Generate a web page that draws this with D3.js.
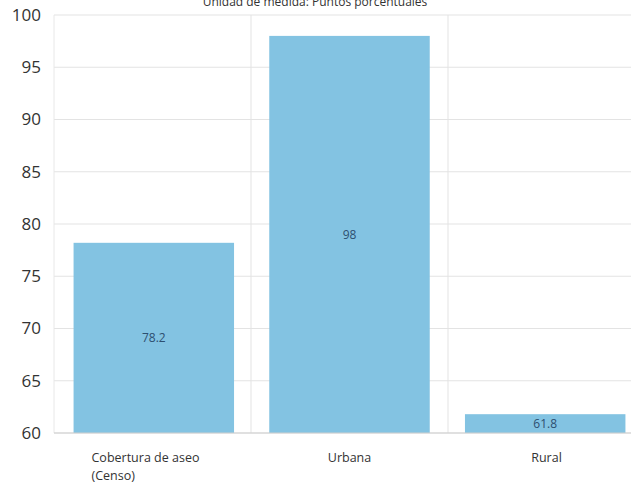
<!DOCTYPE html>
<html><head><meta charset="utf-8">
<script src="https://cdn.jsdelivr.net/npm/d3@7"></script>
<style>body{margin:0;background:#fff;} svg{display:block;}</style>
</head><body>
<svg id="c" width="631" height="486"></svg>
<script>
const title = "Unidad de medida: Puntos porcentuales";
const categories = [["Cobertura de aseo", "(Censo)"], ["Urbana"], ["Rural"]];
const values = [78.2, 98, 61.8];
const yTicks = [60, 65, 70, 75, 80, 85, 90, 95, 100];

const svg = d3.select("#c");
const font = "'Open Sans', 'Noto Sans', sans-serif";
const mLeft = 54, mRight = 645, mTop = 15, mBottom = 433;

const x = d3.scaleBand().domain(d3.range(values.length)).range([mLeft, mRight]).paddingInner(0.18).paddingOuter(0.1);
const xb = d3.scaleBand().domain(d3.range(values.length)).range([mLeft, mRight]);
const y = d3.scaleLinear().domain([60, 100]).range([mBottom, mTop]);

// horizontal grid
svg.append("g").selectAll("line").data(yTicks).join("line")
  .attr("x1", mLeft).attr("x2", 631).attr("y1", d => y(d)).attr("y2", d => y(d))
  .attr("stroke", "#e3e3e3").attr("stroke-width", 1);
// vertical separators
svg.append("g").selectAll("line").data(d3.range(1, values.length)).join("line")
  .attr("x1", d => xb(d)).attr("x2", d => xb(d)).attr("y1", mTop).attr("y2", mBottom)
  .attr("stroke", "#e3e3e3");
svg.append("line").attr("x1", mLeft).attr("x2", mLeft).attr("y1", mTop).attr("y2", mBottom).attr("stroke", "#e8e8e8");

// y axis labels
const yAxis = d3.axisLeft(y).tickValues(yTicks).tickSize(0).tickPadding(10);
const gy = svg.append("g").attr("transform", `translate(${mLeft},0)`).call(yAxis);
gy.select(".domain").remove();
gy.selectAll("text").attr("font-family", font).attr("font-size", 17).attr("fill", "#333").attr("x", -13);

// bars
svg.append("g").selectAll("rect").data(values).join("rect")
  .attr("x", (d, i) => x(i)).attr("width", x.bandwidth())
  .attr("y", d => y(d)).attr("height", d => y(60) - y(d))
  .attr("fill", "#83c3e2");

// value labels
svg.append("g").selectAll("text").data(values).join("text")
  .attr("x", (d, i) => x(i) + x.bandwidth() / 2)
  .attr("y", d => (y(d) + y(60)) / 2)
  .attr("dy", "0.35em").attr("text-anchor", "middle")
  .attr("font-family", font).attr("font-size", 12).attr("fill", "#2d4f70")
  .text(d => d);

// baseline
svg.append("line").attr("x1", mLeft).attr("x2", 631).attr("y1", mBottom).attr("y2", mBottom).attr("stroke", "#cfcfcf");

// category labels
const cg = svg.append("g");
categories.forEach((lines, i) => {
  const cx = xb(i) + xb.bandwidth() / 2;
  const t = cg.append("text").attr("font-family", font).attr("font-size", 12.5).attr("fill", "#333");
  if (lines.length > 1) {
    t.attr("text-anchor", "start");
    lines.forEach((l, j) => t.append("tspan").attr("x", cx - 61).attr("y", 462 + j * 18).text(l));
  } else {
    t.attr("text-anchor", "middle").attr("x", cx).attr("y", 462).text(lines[0]);
  }
});

// title
svg.append("text").attr("x", 315).attr("y", 6).attr("text-anchor", "middle")
  .attr("font-family", font).attr("font-size", 12).attr("fill", "#333").text(title);
</script>
</body></html>
